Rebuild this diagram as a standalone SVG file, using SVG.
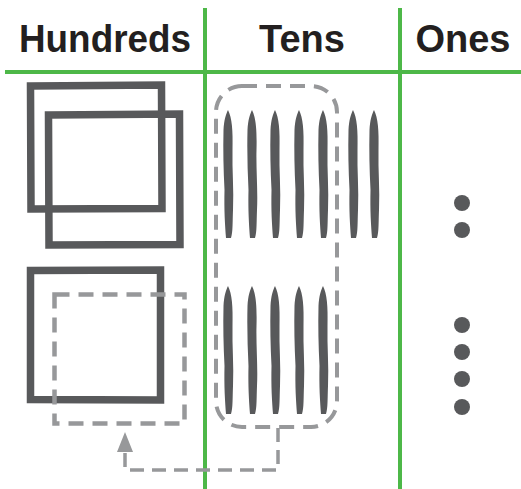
<svg xmlns="http://www.w3.org/2000/svg" width="521" height="489" viewBox="0 0 521 489">
<style>
.hdr{font-family:"Liberation Sans",Arial,sans-serif;font-weight:bold;font-size:38px;fill:#231f20}
.grid{stroke:#4db848;stroke-width:4;fill:none}
.sq{fill:none;stroke:#58595b;stroke-width:7.5;stroke-linejoin:miter}
.dash{fill:none;stroke:#97989a;stroke-width:4.5;stroke-dasharray:15 9}
.conn{fill:none;stroke:#97989a;stroke-width:3.5;stroke-dasharray:14 8}
.stick{fill:#58595b}
.dot{fill:#58595b}
</style>
<defs>
<path id="stick" d="M0,0 C4,8 5,20 4.5,40 C4,60 6,80 5,100 C4.5,112 5,122 3,128 L-2,128 C-3,115 -4,100 -3.5,80 C-4.5,60 -5,40 -4.5,20 C-4,10 -2,4 0,0 Z"/>
<marker id="ah" markerUnits="userSpaceOnUse" markerWidth="20" markerHeight="16" refX="0" refY="8" orient="auto" viewBox="0 0 20 16">
<polygon points="0,0 20,8 0,16" fill="#97989a"/>
</marker>
</defs>
<g id="grid">
<line class="grid" x1="205" y1="8" x2="205" y2="489"/>
<line class="grid" x1="400" y1="8" x2="400" y2="489"/>
<line class="grid" x1="5" y1="72" x2="521" y2="72"/>
</g>
<g id="header-hundreds"><text class="hdr" x="105" y="52" text-anchor="middle" textLength="172" lengthAdjust="spacingAndGlyphs">Hundreds</text></g>
<g id="header-tens"><text class="hdr" x="302" y="52" text-anchor="middle">Tens</text></g>
<g id="header-ones"><text class="hdr" x="463" y="52" text-anchor="middle">Ones</text></g>
<g id="hundred-1"><path class="sq" d="M30.5,86 L161.5,85 L162,208.5 L31,209 Z"/></g>
<g id="hundred-2"><path class="sq" d="M48.5,115 L179.5,114 L180,244.5 L49,245 Z"/></g>
<g id="hundred-3"><path class="sq" d="M30.5,270.5 L160.5,270 L160.5,400 L30.5,399.5 Z"/></g>
<g id="hundred-dashed"><rect class="dash" x="54.5" y="294.5" width="130" height="129"/></g>
<g id="tens-top">
<use href="#stick" class="stick" x="228" y="110"/>
<use href="#stick" class="stick" x="252" y="110"/>
<use href="#stick" class="stick" x="275" y="110"/>
<use href="#stick" class="stick" x="299" y="110"/>
<use href="#stick" class="stick" x="323" y="110"/>
<use href="#stick" class="stick" x="353" y="110"/>
<use href="#stick" class="stick" x="374" y="110"/>
</g>
<g id="tens-bottom">
<use href="#stick" class="stick" x="228" y="286"/>
<use href="#stick" class="stick" x="252" y="286"/>
<use href="#stick" class="stick" x="275" y="286"/>
<use href="#stick" class="stick" x="299" y="286"/>
<use href="#stick" class="stick" x="323" y="286"/>
</g>
<g id="tens-group"><rect class="dash" x="216" y="86" width="121" height="341" rx="26" ry="26" style="stroke-width:4"/></g>
<g id="ones">
<circle class="dot" cx="462" cy="203" r="8"/>
<circle class="dot" cx="462" cy="230" r="8"/>
<circle class="dot" cx="462" cy="325" r="8"/>
<circle class="dot" cx="462" cy="352" r="8"/>
<circle class="dot" cx="462" cy="379" r="8"/>
<circle class="dot" cx="462" cy="407" r="8"/>
</g>
<g id="connectors">
<path class="conn" d="M278,428 V470 H125 V452" marker-end="url(#ah)"/>
</g>
</svg>
